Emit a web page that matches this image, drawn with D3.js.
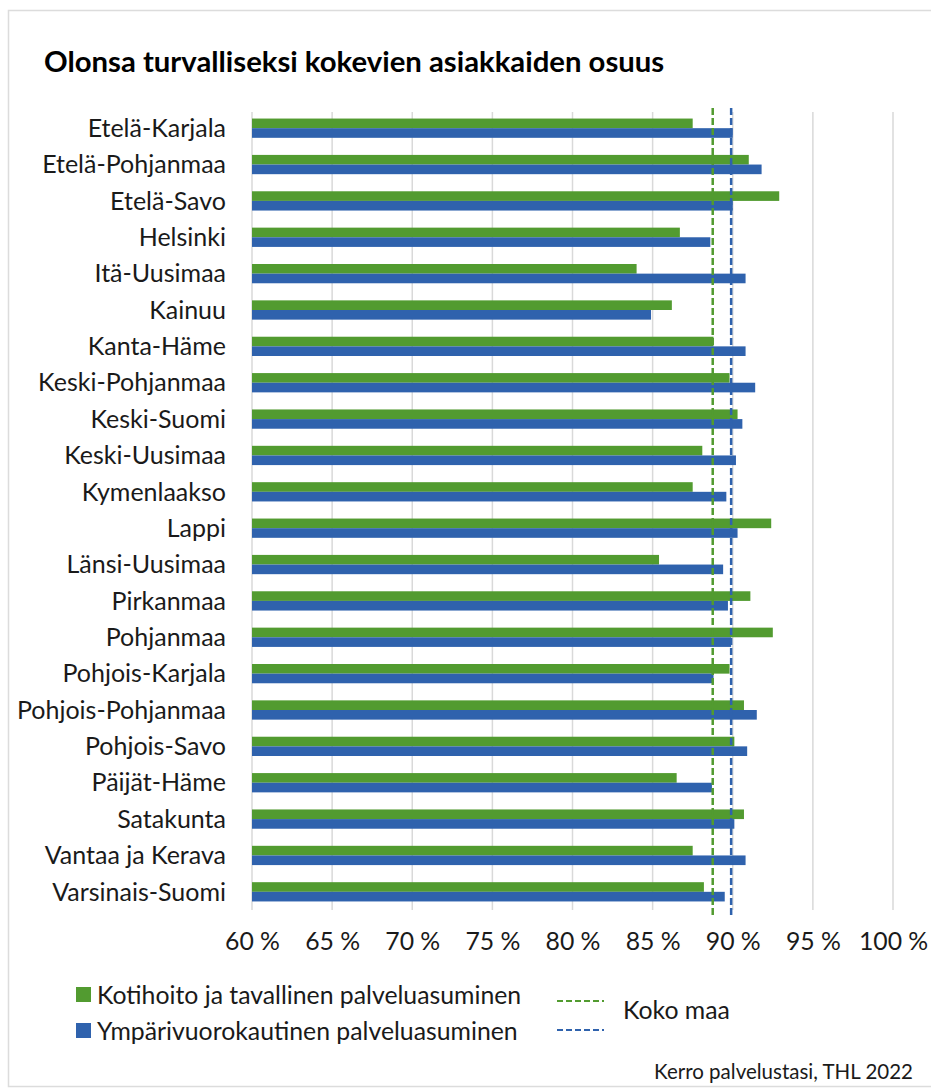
<!DOCTYPE html>
<html><head><meta charset="utf-8">
<script src="https://cdn.jsdelivr.net/npm/d3@7"></script>
<style>
html,body{margin:0;padding:0;background:#fff;}
svg{display:block;font-family:Lato, "Noto Sans", sans-serif;}
</style></head>
<body>
<script>
const categories = ["Etelä-Karjala","Etelä-Pohjanmaa","Etelä-Savo","Helsinki","Itä-Uusimaa","Kainuu","Kanta-Häme","Keski-Pohjanmaa","Keski-Suomi","Keski-Uusimaa","Kymenlaakso","Lappi","Länsi-Uusimaa","Pirkanmaa","Pohjanmaa","Pohjois-Karjala","Pohjois-Pohjanmaa","Pohjois-Savo","Päijät-Häme","Satakunta","Vantaa ja Kerava","Varsinais-Suomi"];
const kotihoito = [87.5,91.0,92.9,86.7,84.0,86.2,88.8,89.8,90.3,88.1,87.5,92.4,85.4,91.1,92.5,89.8,90.7,90.1,86.5,90.7,87.5,88.2];
const ymparivuorokautinen = [90.0,91.8,90.0,88.6,90.8,84.9,90.8,91.4,90.6,90.2,89.6,90.3,89.4,89.7,89.9,88.8,91.5,90.9,88.7,90.1,90.8,89.5];
const kokoMaa = {kotihoito: 88.75, ymparivuorokautinen: 89.9};
const tickValues = [60,65,70,75,80,85,90,95,100];
const seriesNames = ["Kotihoito ja tavallinen palveluasuminen","Ympärivuorokautinen palveluasuminen"];
const title = "Olonsa turvalliseksi kokevien asiakkaiden osuus";
const source = "Kerro palvelustasi, THL 2022";
const kokoMaaLabel = "Koko maa";

const W = 931, H = 1090;
const GREEN = "#529b30", BLUE = "#2f62ad", GRID = "#d9d9d9";

const svg = d3.select("body").append("svg").attr("width", W).attr("height", H);

// outer border
svg.append("rect").attr("x", 8.5).attr("y", 10.5).attr("width", 940).attr("height", 1076)
  .attr("fill", "none").attr("stroke", "#dcdcdc").attr("stroke-width", 1.5);

svg.append("text").attr("x", 44).attr("y", 72).attr("font-size", 29.3).attr("font-weight", 700)
  .attr("fill", "#000").text(title);

const x = d3.scaleLinear().domain([60,100]).range([252, 893]);
const y = d3.scaleBand().domain(categories).range([110, 910]).paddingInner(0.47).paddingOuter(0.235);
const sub = d3.scaleBand().domain(["k","y"]).range([0, y.bandwidth()]);

// gridlines
svg.append("g").selectAll("line").data(tickValues).join("line")
  .attr("x1", d => x(d)).attr("x2", d => x(d)).attr("y1", 112).attr("y2", 910)
  .attr("stroke", GRID).attr("stroke-width", 1.5);

// bars
const rows = svg.append("g").selectAll("g").data(categories).join("g")
  .attr("transform", d => `translate(0,${y(d)})`);
rows.append("rect").attr("x", x(60)).attr("y", sub("k")).attr("height", sub.bandwidth())
  .attr("width", (d,i) => x(kotihoito[i]) - x(60)).attr("fill", GREEN);
rows.append("rect").attr("x", x(60)).attr("y", sub("y")).attr("height", sub.bandwidth())
  .attr("width", (d,i) => x(ymparivuorokautinen[i]) - x(60)).attr("fill", BLUE);

// category labels
svg.append("g").selectAll("text").data(categories).join("text")
  .attr("x", 226).attr("y", d => y(d) + y.bandwidth()/2).attr("dy", "0.35em")
  .attr("text-anchor", "end").attr("font-size", 25).attr("fill", "#1a1a1a").text(d => d);

// koko maa dashed lines
svg.append("line").attr("x1", x(kokoMaa.kotihoito)).attr("x2", x(kokoMaa.kotihoito))
  .attr("y1", 108).attr("y2", 916).attr("stroke", GREEN).attr("stroke-width", 2.5).attr("stroke-dasharray", "7,3");
svg.append("line").attr("x1", x(kokoMaa.ymparivuorokautinen)).attr("x2", x(kokoMaa.ymparivuorokautinen))
  .attr("y1", 108).attr("y2", 916).attr("stroke", BLUE).attr("stroke-width", 2.5).attr("stroke-dasharray", "7,3");

// x axis tick labels
const axis = d3.axisBottom(x).tickValues(tickValues).tickSize(0).tickPadding(0)
  .tickFormat(d => d + "\u202F%");
const ax = svg.append("g").attr("transform", "translate(0,932)").call(axis);
ax.select(".domain").remove();
ax.selectAll("text").attr("font-size", 24.8).attr("fill", "#1a1a1a").attr("font-family", "Lato, 'Noto Sans', sans-serif");

// legend
const leg = svg.append("g");
[[GREEN, seriesNames[0], 987],[BLUE, seriesNames[1], 1023]].forEach(([c, t, yy]) => {
  leg.append("rect").attr("x", 76).attr("y", yy).attr("width", 15).attr("height", 15).attr("fill", c);
  leg.append("text").attr("x", 97).attr("y", yy + 8).attr("dy", "0.35em").attr("font-size", 24.8)
    .attr("fill", "#1a1a1a").text(t);
});
leg.append("line").attr("x1", 557).attr("x2", 604).attr("y1", 1001).attr("y2", 1001)
  .attr("stroke", GREEN).attr("stroke-width", 2).attr("stroke-dasharray", "6,3");
leg.append("line").attr("x1", 557).attr("x2", 604).attr("y1", 1030).attr("y2", 1030)
  .attr("stroke", BLUE).attr("stroke-width", 2).attr("stroke-dasharray", "6,3");
leg.append("text").attr("x", 623).attr("y", 1010).attr("dy", "0.35em").attr("font-size", 24.8)
  .attr("fill", "#1a1a1a").text(kokoMaaLabel);

svg.append("text").attr("x", 913).attr("y", 1072).attr("dy", "0.35em").attr("text-anchor", "end")
  .attr("font-size", 20.5).attr("fill", "#1a1a1a").text(source);
</script>
</body></html>
